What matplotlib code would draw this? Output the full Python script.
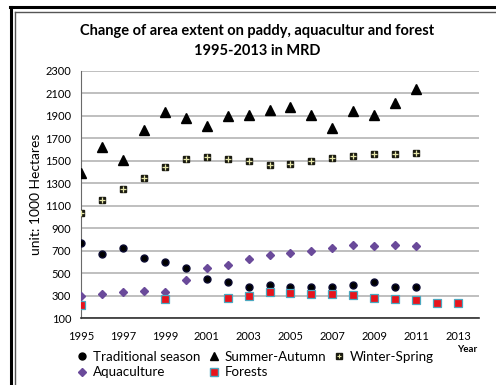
import numpy as np
import matplotlib
matplotlib.use("Agg")
import matplotlib.pyplot as plt
from matplotlib.lines import Line2D

plt.rcParams['font.family'] = ['Lato', 'DejaVu Sans']

years = np.arange(1995, 2014)
nan = np.nan

traditional = [768, 673, 720, 634, 599, 545, 447, 421, 379, 397, 379, 373, 379, 397, 417, 379, 379, nan, nan]
summer_autumn = [1388, 1620, 1507, 1775, 1937, 1878, 1810, 1902, 1908, 1955, 1976, 1908, 1792, 1940, 1908, 2011, 2142, nan, nan]
winter_spring = [1038, 1154, 1249, 1347, 1448, 1519, 1537, 1519, 1498, 1459, 1474, 1501, 1521, 1546, 1557, 1557, 1566, nan, nan]
aquaculture = [292, 314, 328, 343, 332, 441, 548, 575, 625, 661, 679, 693, 723, 753, 741, 747, 741, nan, nan]
forests = [212, nan, nan, nan, 272, nan, nan, 281, 296, 328, 319, 310, 310, 305, 281, 272, 263, 236, 236]

fig = plt.figure(figsize=(4.96, 3.85), dpi=100)
ax = fig.add_axes([0.1633, 0.174, 0.8024, 0.6416])

# frame of the excel chart
fig.add_artist(Line2D([0.02, 1.0], [0.981, 0.981], color='black', lw=2.2))
fig.add_artist(Line2D([0.03, 1.0], [0.968, 0.968], color='#555555', lw=1))
fig.add_artist(Line2D([0.022, 0.022], [0.0, 0.981], color='black', lw=2.2))
fig.add_artist(Line2D([0.031, 0.031], [0.0, 0.968], color='#555555', lw=1))

ax.plot(years, traditional, 'o', color='black', mec='#0a0a30', ms=5, zorder=3)
ax.plot(years, summer_autumn, '^', color='black', ms=6.5, zorder=3)
ax.plot(years, winter_spring, 's', color='#1a1a10', ms=4.8, zorder=3)
ax.plot(years, winter_spring, '+', color='#e6e6a8', ms=4, mew=0.9, zorder=4)
ax.plot(years, aquaculture, 'D', color='#6a4a9a', ms=4.5, zorder=3)
ax.plot(years, forests, 's', color='#e8141c', mec='#4aa8c0', mew=0.9, ms=6, zorder=3)

ax.set_xlim(1995, 2014)
ax.set_ylim(100, 2300)
ax.set_xticks(np.arange(1995, 2014, 2))
ax.set_yticks(np.arange(100, 2301, 200))
ax.yaxis.grid(True, color='#b4b4b4', lw=1.2)
ax.set_axisbelow(True)
for s in ['top', 'right']:
    ax.spines[s].set_visible(False)
ax.spines['left'].set_color('#6a6a6a')
ax.spines['bottom'].set_color('#303030')
ax.spines['bottom'].set_linewidth(1.2)
ax.tick_params(length=0, labelsize=8, pad=7)
ax.tick_params(axis='x', pad=9)
ax.set_ylabel("unit: 1000 Hectares", fontsize=10, labelpad=2)
fig.text(467 / 496, 1 - 349 / 385, "Year", fontsize=7, fontweight='bold', ha='center', va='center')
fig.text(0.518, 0.893, "Change of area extent on paddy, aquacultur and forest\n1995-2013 in MRD",
         ha='center', va='center', fontsize=10.5, fontweight='bold', linespacing=1.55)

h_trad = Line2D([], [], ls='', marker='o', color='black', ms=5)
h_sa = Line2D([], [], ls='', marker='^', color='black', ms=6)
h_ws = (Line2D([], [], ls='', marker='s', color='#1a1a10', ms=4.5),
        Line2D([], [], ls='', marker='+', color='#e6e6a8', ms=3.5, mew=0.8))
h_aq = Line2D([], [], ls='', marker='D', color='#6a4a9a', ms=4.5)
h_fo = Line2D([], [], ls='', marker='s', color='#e8141c', mec='#4aa8c0', ms=6)
fig.legend([h_trad, h_aq, h_sa, h_fo, h_ws],
           ["Traditional season", "Aquaculture", "Summer-Autumn", "Forests", "Winter-Spring"],
           ncol=3, loc='upper left', bbox_to_anchor=(0.155, 0.088), frameon=False, fontsize=9.6,
           handlelength=0.8, handletextpad=0.4, columnspacing=0.6, labelspacing=0.25,
           borderaxespad=0, borderpad=0)

fig.savefig("out.png", dpi=100)
